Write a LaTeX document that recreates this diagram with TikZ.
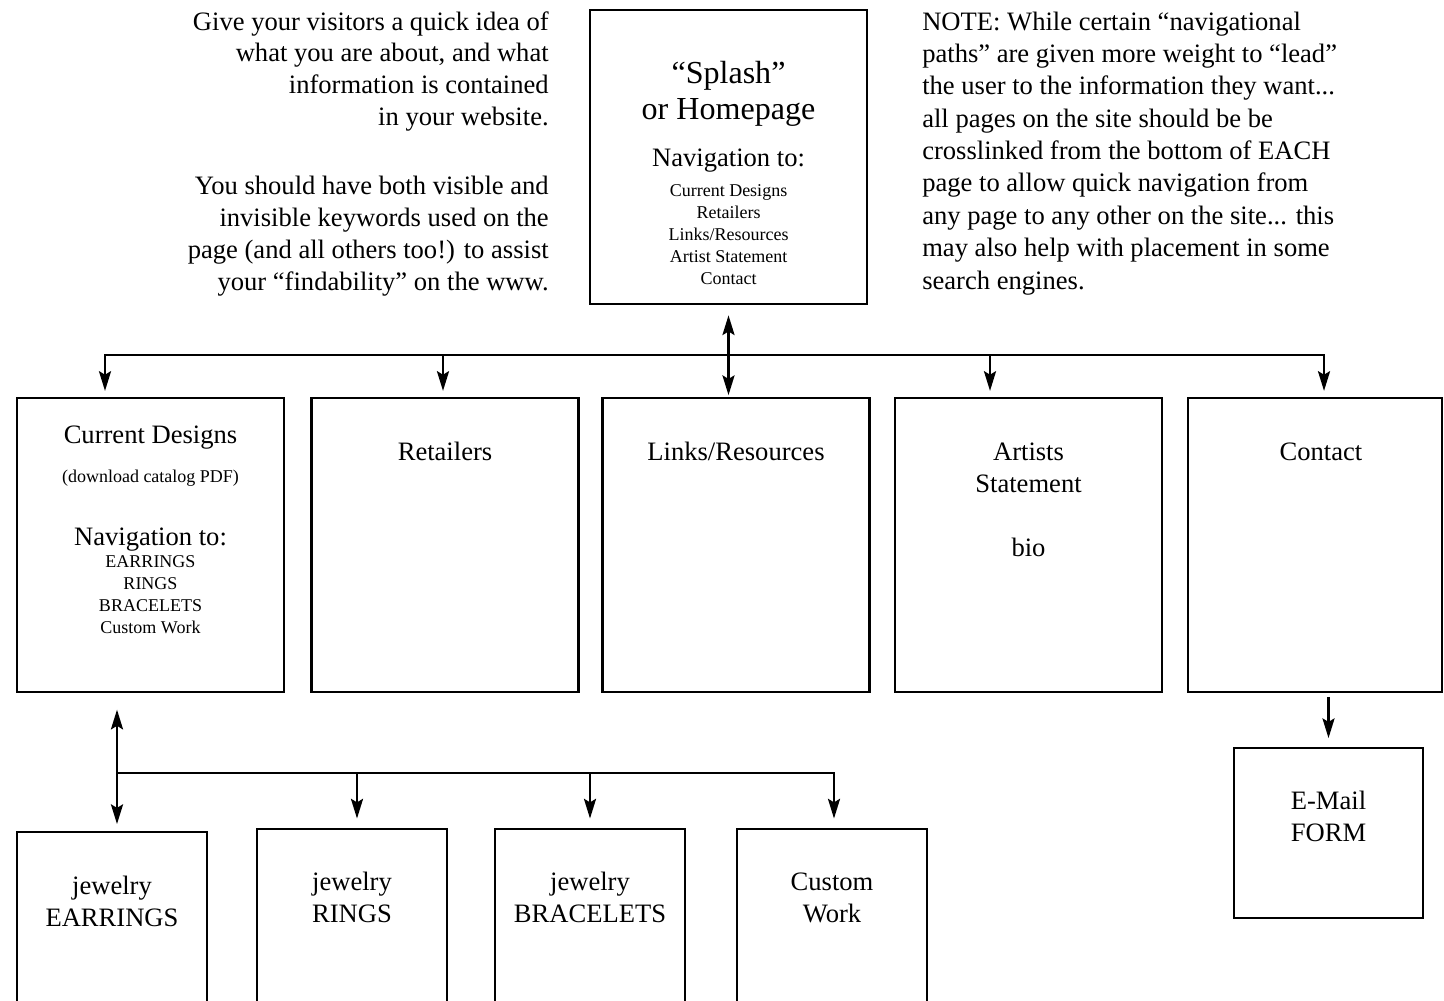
\documentclass[tikz,border=0pt]{standalone}
\usepackage{fontspec}
\setmainfont{Liberation Serif}
\usetikzlibrary{calc,arrows.meta}

\newcommand{\bodyfont}{\fontsize{18.9pt}{22.6pt}\selectfont}
\newcommand{\notefont}{\fontsize{18.9pt}{23pt}\selectfont}
\newcommand{\smallfont}{\fontsize{12.8pt}{15.6pt}\selectfont}
\newcommand{\titlefont}{\fontsize{22.8pt}{25.6pt}\selectfont}

\begin{document}
\begin{tikzpicture}[x=0.025cm,y=-0.025cm,
  page/.style={draw,line width=2pt,inner sep=0pt},
  topbox/.style={page,minimum width=6.67cm,minimum height=7.35cm},
  subbox/.style={page,minimum width=4.75cm,minimum height=5.5cm},
  txt/.style={draw=none,fill=none,inner sep=0pt,align=center,font=\bodyfont},
  bus/.style={line width=2pt,line cap=rect},
  link/.style={line width=2pt,-{Stealth[length=14pt,width=8.5pt,inset=2.5pt]}},
  dlink/.style={line width=2pt,{Stealth[length=14pt,width=8.5pt,inset=2.5pt]}-{Stealth[length=14pt,width=8.5pt,inset=2.5pt]}}]

  \useasboundingbox (0,0) rectangle (1444,1000);
  \clip (0,0) rectangle (1444,1000);

  % Splash page (multi-line texts sit on the baseline of their last line)
  \node[page,minimum width=6.925cm,minimum height=7.35cm] (splash) at (728.5,157) {};
  \node[txt,anchor=base,font=\titlefont] (splashtitle) at ($(splash.north)+(0,111)$) {“Splash”\\or Homepage};
  \node[txt,anchor=base] (splashnav) at ($(splash.north)+(0,158)$) {Navigation to:};
  \node[txt,anchor=base,font=\smallfont] (splashlist) at ($(splash.north)+(0,276)$) {Current Designs\\Retailers\\Links/Resources\\Artist Statement\\Contact};

  % Notes beside the splash page
  \node[txt,anchor=base east,align=right] (intro) at (549,125.5) {Give your visitors a quick idea of\\what you are about, and what\\information is contained\\in your website.};
  \node[txt,anchor=base east,align=right] (keywords) at (549,290) {You should have both visible and\\invisible keywords used on the\\page (and all others too!) to assist\\your “findability” on the www.};
  \node[txt,anchor=base west,align=left,font=\notefont] (note) at (922,289) {NOTE: While certain “navigational\\paths” are given more weight to “lead”\\the user to the information they want...\\all pages on the site should be be\\crosslinked from the bottom of EACH\\page to allow quick navigation from\\any page to any other on the site... this\\may also help with placement in some\\search engines.};

  % Main pages
  \node[topbox] (cur) at (150.5,545) {};
  \node[topbox] (ret) at (445,545) {};
  \node[topbox] (links) at (736,545) {};
  \node[topbox] (artist) at (1028.5,545) {};
  \node[topbox,minimum width=6.35cm] (contact) at (1315,545) {};

  % Texts of the main pages
  \node[txt,anchor=base] (curtitle) at ($(cur.north)+(0,47)$) {Current Designs};
  \node[txt,anchor=base,font=\smallfont] (curpdf) at ($(cur.north)+(0,86)$) {(download catalog PDF)};
  \node[txt,anchor=base] (curnav) at ($(cur.north)+(0,149)$) {Navigation to:};
  \node[txt,anchor=base,font=\smallfont] (curlist) at ($(cur.north)+(0,237)$) {EARRINGS\\RINGS\\BRACELETS\\Custom Work};
  \node[txt,anchor=base] (rettitle) at ($(ret.north)+(0,64)$) {Retailers};
  \node[txt,anchor=base] (linkstitle) at ($(links.north)+(0,64)$) {Links/Resources};
  \node[txt,anchor=base] (arttitle) at ($(artist.north)+(0,96)$) {Artists\\Statement};
  \node[txt,anchor=base] (artbio) at ($(artist.north)+(0,160)$) {bio};
  \node[txt,anchor=base] (contitle) at ($(contact.north)+(6,64)$) {Contact};

  % Jewelry pages
  \node[subbox] (earr) at (112,942) {};
  \node[subbox] (rings) at (352,939) {};
  \node[subbox] (brace) at (590,939) {};
  \node[subbox] (custom) at (832,939) {};
  \node[txt,anchor=base] (earrtitle) at ($(earr.north)+(0,96)$) {jewelry\\EARRINGS};
  \node[txt,anchor=base] (ringstitle) at ($(rings.north)+(0,95)$) {jewelry\\RINGS};
  \node[txt,anchor=base] (bracetitle) at ($(brace.north)+(0,95)$) {jewelry\\BRACELETS};
  \node[txt,anchor=base] (customtitle) at ($(custom.north)+(0,95)$) {Custom\\Work};

  % E-Mail form
  \node[page,minimum width=4.725cm,minimum height=4.25cm] (email) at (1328.5,833) {};
  \node[txt,anchor=base] (emailtitle) at ($(email.north)+(0,95)$) {E-Mail\\FORM};

  % Links from the splash page
  \coordinate (bcur) at (105,355);
  \coordinate (bret) at (443,355);
  \coordinate (bart) at (990,355);
  \coordinate (bcon) at (1324,355);
  \draw[bus] (bcur) -- (bcon);
  \draw[dlink,shorten <=7pt,shorten >=1pt] (splash.south) -- (splash.south |- links.north);
  \draw[link,shorten >=4pt] (bcur) -- (bcur |- cur.north);
  \draw[link,shorten >=4pt] (bret) -- (bret |- ret.north);
  \draw[link,shorten >=4pt] (bart) -- (bart |- artist.north);
  \draw[link,shorten >=4pt] (bcon) -- (bcon |- contact.north);

  % Links from Current Designs
  \coordinate (bearr) at (117,773);
  \coordinate (brings) at (357,773);
  \coordinate (bbrace) at (590,773);
  \coordinate (bcustom) at (834,773);
  \draw[bus] (bearr) -- (bcustom);
  \draw[dlink,shorten <=11.5pt,shorten >=4.6pt] (bearr |- cur.south) -- (bearr |- earr.north);
  \draw[link,shorten >=6.4pt] (brings) -- (brings |- rings.north);
  \draw[link,shorten >=6.4pt] (bbrace) -- (bbrace |- brace.north);
  \draw[link,shorten >=6.4pt] (bcustom) -- (bcustom |- custom.north);

  % Contact to E-Mail form
  \draw[link,shorten <=2.5pt,shorten >=6pt] (email.north |- contact.south) -- (email.north);

\end{tikzpicture}
\end{document}
